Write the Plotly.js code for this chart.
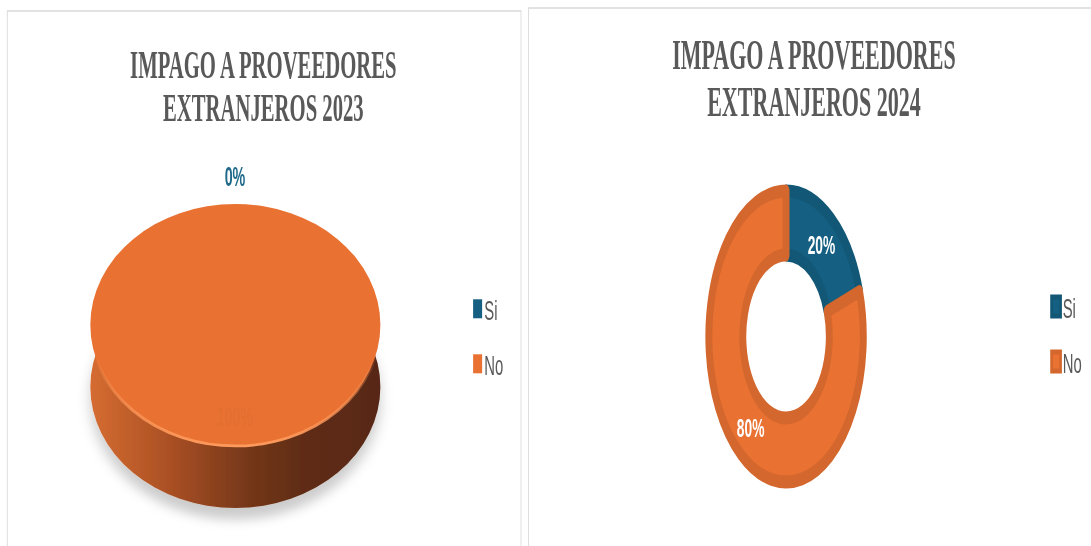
<!DOCTYPE html>
<html>
<head>
<meta charset="utf-8">
<script src="https://cdn.plot.ly/plotly-3.0.1.min.js"></script>
<style>
html, body { margin: 0; padding: 0; background: #ffffff; overflow: hidden; }
#wrap { width: 1091px; height: 546px; overflow: hidden; position: relative; }
#chart { width: 2055px; height: 546px; transform: scaleX(0.5309); transform-origin: 0 0; }
</style>
</head>
<body>
<div id="wrap"><div id="chart"></div></div>
<script>
// ---- data ----
const labels = ['Si', 'No'];
const values2023 = [0, 100];
const values2024 = [20, 80];
const title2023 = ['IMPAGO A PROVEEDORES', 'EXTRANJEROS 2023'];
const title2024 = ['IMPAGO A PROVEEDORES', 'EXTRANJEROS 2024'];
const sliceColors = ['#156082', '#E97132'];

// ---- layout constants ----
const FW = 1091, FH = 546, PRE_W = 2055;
const S = FW / PRE_W;              // horizontal squeeze of the whole picture
const sans = 'Liberation Sans, Arial, sans-serif';
const serif = 'Liberation Serif, Times New Roman, serif';

const pieDomain2023 = {x: [0.1157, 0.3157], y: [0.1594, 0.6502]};
const pieDomain2024 = {x: [0.6205, 0.8205], y: [0.1172, 0.6502]};

const sideTrace = {
  type: 'pie', labels: labels, values: values2023, sort: false,
  direction: 'clockwise', rotation: 0, domain: pieDomain2023,
  marker: {colors: ['#5A2812', '#5A2812'], line: {width: 0}},
  textinfo: 'none', hoverinfo: 'skip', showlegend: false,
  legend: 'legend', legendgroup: 'g2023side'
};
const labelFont2023 = {family: sans, size: 27, weight: 'bold', color: ['#1F6A8A', '#E36F31']};
const topTrace = {
  type: 'pie', labels: labels, values: values2023, sort: false,
  direction: 'clockwise', rotation: 0, domain: pieDomain2023,
  marker: {colors: sliceColors, line: {width: 0}},
  textinfo: 'percent', textposition: ['outside', 'inside'],
  textfont: labelFont2023, insidetextfont: labelFont2023, outsidetextfont: labelFont2023,
  legend: 'legend', legendgroup: 'g2023'
};
const donutTrace = {
  type: 'pie', labels: labels, values: values2024, sort: false, hole: 0.56,
  direction: 'clockwise', rotation: 0, domain: pieDomain2024,
  marker: {colors: sliceColors, line: {color: ['#125775', '#D3672D'], width: 13}},
  textinfo: 'percent', textposition: 'inside', insidetextorientation: 'horizontal',
  textfont: {family: sans, size: 26, weight: 'bold', color: '#FFFFFF'},
  legend: 'legend2', legendgroup: 'g2024'
};

const legendFont = {family: sans, size: 28, color: '#595959'};
const titleLine = function (text, xPx, yPx, size) {
  return {text: text, xref: 'paper', yref: 'paper', x: xPx / FW, y: 1 - yPx / FH,
          xanchor: 'center', yanchor: 'middle', showarrow: false, align: 'center',
          font: {family: serif, size: size, weight: 'bold', color: '#595959'}};
};
const layout = {
  width: PRE_W, height: FH,
  margin: {l: 0, r: 0, t: 0, b: 0},
  paper_bgcolor: '#FFFFFF', plot_bgcolor: '#FFFFFF',
  showlegend: true,
  legend: {x: 0.4244, y: 0.4797, xanchor: 'left', yanchor: 'top', font: legendFont, bgcolor: 'rgba(0,0,0,0)'},
  legend2: {x: 0.9546, y: 0.4837, xanchor: 'left', yanchor: 'top', font: legendFont, bgcolor: 'rgba(0,0,0,0)'},
  annotations: [
    titleLine(title2023[0], 263.3, 64.7, 39),
    titleLine(title2023[1], 263.3, 107.8, 39),
    titleLine(title2024[0], 814, 55.5, 41.5),
    titleLine(title2024[1], 814, 101.5, 41.5)
  ],
  shapes: [
    {type: 'rect', xref: 'paper', yref: 'paper', x0: 7.3 / FW, x1: 521 / FW, y0: -0.2, y1: 1 - 11 / FH,
     line: {color: '#D9D9D9', width: 1.6}, fillcolor: 'rgba(0,0,0,0)', layer: 'below'},
    {type: 'rect', xref: 'paper', yref: 'paper', x0: 528.5 / FW, x1: 1.2, y0: -0.2, y1: 1 - 8 / FH,
     line: {color: '#D9D9D9', width: 1.6}, fillcolor: 'rgba(0,0,0,0)', layer: 'below'}
  ]
};

const gdEl = document.getElementById('chart');
Plotly.newPlot(gdEl, [sideTrace, topTrace, donutTrace], layout, {displayModeBar: false, staticPlot: true})
.then(function (gd) {
  // --- 3-D look for the 2023 pie: tilt the top face, extrude a side below it ---
  const cd0 = gd.calcdata[1][0];
  const cx = cd0.cx, cy = cd0.cy, R = cd0.r;
  const ax = (145 / S) / R, ay = 121 / R, depth = 62;
  const svg = gd.querySelector('svg.main-svg');
  const defs = svg.querySelector('defs');
  const NS = 'http://www.w3.org/2000/svg';
  const mkGrad = function (id, x2, y2, stops) {
    const g = document.createElementNS(NS, 'linearGradient');
    g.setAttribute('id', id);
    g.setAttribute('x1', '0'); g.setAttribute('y1', '0');
    g.setAttribute('x2', x2); g.setAttribute('y2', y2);
    stops.forEach(function (s) {
      const st = document.createElementNS(NS, 'stop');
      st.setAttribute('offset', s[0]); st.setAttribute('stop-color', s[1]);
      st.setAttribute('stop-opacity', s[2] === undefined ? 1 : s[2]);
      g.appendChild(st);
    });
    defs.appendChild(g);
  };
  mkGrad('sideGrad', '1', '0', [['0', '#D56C31'], ['0.28', '#A94F24'], ['0.55', '#743719'], ['0.75', '#5E2B14'], ['1', '#582812']]);
  mkGrad('rimGrad', '0', '1', [['0', '#FF9A5C', 0], ['0.62', '#FF9A5C', 0], ['0.85', '#FF9A5C', 0.7], ['1', '#FF9A5C', 1]]);

  const filt = document.createElementNS(NS, 'filter');
  filt.setAttribute('id', 'sideShadow');
  filt.setAttribute('x', '-20%'); filt.setAttribute('y', '-20%');
  filt.setAttribute('width', '140%'); filt.setAttribute('height', '170%');
  const ds = document.createElementNS(NS, 'feDropShadow');
  ds.setAttribute('dx', '0'); ds.setAttribute('dy', '13');
  ds.setAttribute('stdDeviation', '6');
  ds.setAttribute('flood-color', '#000000'); ds.setAttribute('flood-opacity', '0.2');
  filt.appendChild(ds);
  defs.appendChild(filt);

  const pieTraces = gd.querySelectorAll('.pielayer .trace');
  const tilt = function (dy) {
    return 'translate(' + cx + ',' + (cy + dy) + ') scale(' + ax + ',' + ay + ') translate(' + (-cx) + ',' + (-cy) + ')';
  };
  pieTraces[0].querySelectorAll('path.surface').forEach(function (p) {
    p.setAttribute('transform', tilt(depth));
    p.style.fill = 'url(#sideGrad)';
    p.setAttribute('filter', 'url(#sideShadow)');
  });
  pieTraces[1].querySelectorAll('path.surface').forEach(function (p) {
    p.setAttribute('transform', tilt(0));
    p.style.stroke = 'url(#rimGrad)';
    p.style.strokeWidth = '3px';
  });

  // --- place the 2023 percentage labels like the reference ---
  const place = function (el, tx, ty) {
    if (!el) return;
    const r = el.getBoundingClientRect();
    if (!r.width) return;
    const dx = (tx - (r.left + r.width / 2)) / S;
    const dy = ty - (r.top + r.height / 2);
    el.setAttribute('transform', 'translate(' + dx + ',' + dy + ')');
  };
  const txt2023 = pieTraces[1].querySelectorAll('g.slice');
  if (txt2023[0]) place(txt2023[0].querySelector('g.slicetext'), 235, 177);
  if (txt2023[1]) place(txt2023[1].querySelector('g.slicetext'), 235, 417);

  // --- legends: bigger keys and wider row spacing ---
  ['g.legend', 'g.legend2'].forEach(function (sel) {
    const lg = gd.querySelector(sel);
    if (!lg) return;
    const sb = lg.querySelector('g.scrollbox');
    if (sb) sb.removeAttribute('clip-path');
    lg.querySelectorAll('path.legendpie').forEach(function (p) {
      p.setAttribute('d', 'M16,9.5H-1V-9.5H16Z');
    });
    const items = lg.querySelectorAll('g.traces');
    if (items.length > 1) {
      const m = /translate\(\s*([-\d.e]+)[ ,]+([-\d.e]+)\s*\)/.exec(items[0].getAttribute('transform') || '');
      if (m) {
        items[1].setAttribute('transform', 'translate(' + m[1] + ',' + (parseFloat(m[2]) + 55) + ')');
      }
    }
  });
});
</script>
</body>
</html>
